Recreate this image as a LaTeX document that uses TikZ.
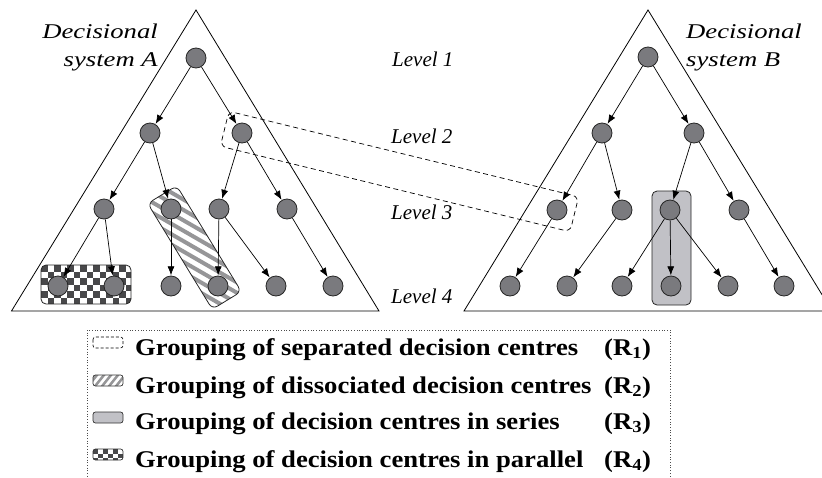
\documentclass[tikz,border=0pt]{standalone}
\usepackage{fontspec}
\setmainfont{Liberation Serif}
\newfontfamily\decfont[FakeStretch=1.27]{Liberation Serif}
\newfontfamily\levfont[FakeStretch=1.0]{Liberation Serif}
\newfontfamily\legfont[FakeStretch=1.11]{Liberation Serif}
\usetikzlibrary{arrows.meta}
\definecolor{nodegray}{RGB}{122,122,126}
\definecolor{boxgray}{RGB}{193,193,198}
\definecolor{checkdark}{RGB}{72,72,74}
\definecolor{stripegray}{RGB}{150,150,152}
\tikzset{
  dc/.style={circle, minimum size=20pt, inner sep=0pt, fill=nodegray, draw=black!85, line width=0.8pt},
  arr/.style={-{Latex[length=9pt,width=7pt]}, line width=0.7pt, shorten >=0.3pt},
  tri/.style={line width=0.8pt},
  grp/.style={line width=0.8pt, draw=black!85, rounded corners=5pt},
  stripe/.style={draw=stripegray, line width=4pt},
  declabel/.style={font=\decfont\itshape\fontsize{21}{24}\selectfont, inner sep=0pt},
  levlabel/.style={font=\levfont\itshape\fontsize{21}{24}\selectfont, inner sep=0pt, anchor=base west},
  legtext/.style={font=\legfont\bfseries\fontsize{24}{28}\selectfont, inner sep=0pt, anchor=base west}
}
\begin{document}
\begin{tikzpicture}[x=1pt,y=1pt]
\useasboundingbox (0,0) rectangle (822,-477);
% triangles
\draw[tri] (11.5,-311) -- (196,-10) -- (379,-311) -- cycle;
\draw[tri] (464,-311) -- (648,-10) -- (832,-311) -- cycle;

% grouping R4 checkered
\begin{scope}
  \clip[rounded corners=5pt] (41,-265) rectangle (131,-304);
  \fill[white] (41,-265) rectangle (131,-304);
  \foreach \i in {0,...,13} {
    \foreach \j in {0,...,5} {
      \pgfmathtruncatemacro\kk{mod(\i+\j,2)}
      \ifnum\kk=0 \fill[checkdark] (41+\i*6.5,-265-\j*6.5) rectangle ++(6.5,-6.5); \fi
    }
  }
\end{scope}
\draw[grp] (41,-265) rectangle (131,-304);

% grouping R2 striped
\begin{scope}[shift={(194.5,-247.5)}, rotate=-58.6]
  \begin{scope}
    \clip[rounded corners=6pt] (-62,-17) rectangle (62,17);
    \fill[white] (-62,-17) rectangle (62,17);
    \foreach \k in {-12,...,12} { \draw[stripe, rotate=28.6] (-100,\k*9) -- (100,\k*9); }
  \end{scope}
  \draw[grp, rounded corners=6pt] (-62,-17) rectangle (62,17);
\end{scope}

% grouping R3 gray
\draw[grp, fill=boxgray] (652,-191) rectangle (691,-305);

% nodes A
\node[dc] (a1) at (196,-58) {};
\node[dc] (a21) at (150,-133) {};
\node[dc] (a22) at (242,-133) {};
\node[dc] (a31) at (104,-209) {};
\node[dc] (a32) at (171,-209) {};
\node[dc] (a33) at (219,-209) {};
\node[dc] (a34) at (287,-209) {};
\node[dc] (a41) at (58,-286) {};
\node[dc] (a42) at (114,-286) {};
\node[dc] (a43) at (171,-286) {};
\node[dc] (a44) at (218,-286) {};
\node[dc] (a45) at (276,-286) {};
\node[dc] (a46) at (333,-286) {};
% nodes B
\node[dc] (b1) at (648,-57) {};
\node[dc] (b21) at (602,-133) {};
\node[dc] (b22) at (694,-133) {};
\node[dc] (b31) at (557,-210) {};
\node[dc] (b32) at (622,-210) {};
\node[dc] (b33) at (670,-210) {};
\node[dc] (b34) at (739,-210) {};
\node[dc] (b41) at (510,-286) {};
\node[dc] (b42) at (567,-286) {};
\node[dc] (b43) at (622,-286) {};
\node[dc] (b44) at (671,-286) {};
\node[dc] (b45) at (728,-286) {};
\node[dc] (b46) at (784,-286) {};

% edges A
\foreach \p/\c in {a1/a21,a1/a22,a21/a31,a21/a32,a22/a33,a22/a34,a31/a41,a31/a42,a32/a43,a33/a44,a33/a45,a34/a46}
  \draw[arr] (\p) -- (\c);
% edges B
\foreach \p/\c in {b1/b21,b1/b22,b21/b31,b21/b32,b22/b33,b22/b34,b31/b41,b32/b42,b33/b43,b33/b44,b33/b45,b34/b46}
  \draw[arr] (\p) -- (\c);

% grouping R1 dashed
\begin{scope}[shift={(399.5,-171.5)}, rotate=-13.74]
  \draw[dashed, line width=0.7pt, rounded corners=6pt, dash pattern=on 5pt off 3.5pt] (-180,-18) rectangle (180,18);
\end{scope}

% labels
\node[declabel, anchor=base east] (dA1) at (158,-38) {Decisional};
\node[declabel, anchor=base east] (dA2) at (158,-66) {system A};
\node[declabel, anchor=base west] (dB1) at (686,-38) {Decisional};
\node[declabel, anchor=base west] (dB2) at (686,-66) {system B};
\node[levlabel] (l1) at (392,-66) {Level 1};
\node[levlabel] (l2) at (391,-143) {Level 2};
\node[levlabel] (l3) at (391,-219) {Level 3};
\node[levlabel] (l4) at (391,-303) {Level 4};

% legend
\draw[dotted, line width=0.7pt, draw=black!70] (87,-330) rectangle (670,-495);
% icon 1
\draw[dashed, dash pattern=on 3pt off 2pt, line width=0.6pt, rounded corners=2.5pt] (93,-337) rectangle (123,-348);
% icon 2
\begin{scope}
  \clip[rounded corners=2.5pt] (93,-375) rectangle (123,-386);
  \fill[white] (93,-375) rectangle (123,-386);
  \foreach \k in {0,...,6} { \draw[draw=stripegray, line width=2.5pt] (85+\k*7,-390) -- ++(16,20); }
\end{scope}
\draw[line width=0.7pt, draw=black!80, rounded corners=2.5pt] (93,-375) rectangle (123,-386);
% icon 3
\draw[line width=0.7pt, draw=black!80, fill=boxgray, rounded corners=2.5pt] (93,-412) rectangle (123,-423);
% icon 4
\begin{scope}
  \clip[rounded corners=2.5pt] (93,-449) rectangle (123,-460);
  \fill[white] (93,-449) rectangle (123,-460);
  \foreach \i in {0,...,5} {
    \foreach \j in {0,...,2} {
      \pgfmathtruncatemacro\kk{mod(\i+\j,2)}
      \ifnum\kk=0 \fill[checkdark] (93+\i*5,-449-\j*4.5) rectangle ++(5,-4.5); \fi
    }
  }
\end{scope}
\draw[line width=0.7pt, draw=black!80, rounded corners=2.5pt] (93,-449) rectangle (123,-460);

\node[legtext] (t1) at (135,-355) {Grouping of separated decision centres};
\node[legtext] (t2) at (135,-393) {Grouping of dissociated decision centres};
\node[legtext] (t3) at (135,-429) {Grouping of decision centres in series};
\node[legtext] (t4) at (135,-467) {Grouping of decision centres in parallel};
\node[legtext] (r1) at (604,-355) {(R\textsubscript{1})};
\node[legtext] (r2) at (604,-393) {(R\textsubscript{2})};
\node[legtext] (r3) at (604,-429) {(R\textsubscript{3})};
\node[legtext] (r4) at (604,-467) {(R\textsubscript{4})};
\end{tikzpicture}
\end{document}
